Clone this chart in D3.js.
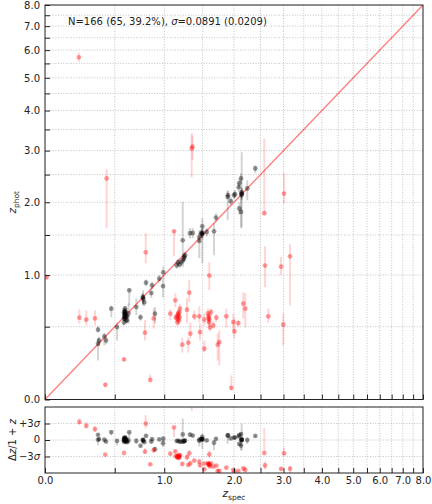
<!DOCTYPE html>
<html>
<head>
<meta charset="utf-8">
<script src="https://cdn.jsdelivr.net/npm/d3@7"></script>
<style>
  body { margin: 0; background: #fff; }
  svg { display: block; font-family: "DejaVu Sans", sans-serif; }
</style>
</head>
<body>
<div id="chart"></div>
<script>
// PHOTO-Z vs SPEC-Z with residual panel

// summary numbers printed in the corner
const nTotal = 166;
const nOutliers = 65;
const outlierPct = 39.2;
const sigma = 0.0891;
const sigmaErr = 0.0209;

// tick positions (redshift) - labels only on the integers
const gridTicks = [0, 0.5, 1, 1.5, 2, 2.5, 3, 3.5, 4, 4.5, 5, 5.5, 6, 6.5, 7, 7.5, 8];
const majorTicks = [0, 1, 2, 3, 4, 5, 6, 7, 8];
const residTicks = [3, 0, -3];          // in units of sigma
const residLabels = [["+3", "σ"], ["0", ""], ["−3", "σ"]];

// [zspec, zphot, zphot_lo, zphot_hi]  -- good fits
const good = [
  [0.361, 0.364, 0.243, 0.405],
  [0.361, 0.475, 0.453, 0.503],
  [0.369, 0.390, 0.350, 0.420],
  [0.412, 0.421, 0.351, 0.453],
  [0.426, 0.390, 0.360, 0.420],
  [0.470, 0.658, 0.580, 0.689],
  [0.520, 0.497, 0.390, 0.536],
  [0.583, 0.571, 0.550, 0.590],
  [0.592, 0.606, 0.580, 0.630],
  [0.588, 0.643, 0.620, 0.660],
  [0.601, 0.554, 0.530, 0.580],
  [0.583, 0.536, 0.510, 0.560],
  [0.611, 0.589, 0.570, 0.610],
  [0.592, 0.661, 0.640, 0.680],
  [0.583, 0.625, 0.600, 0.650],
  [0.611, 0.554, 0.530, 0.580],
  [0.592, 0.571, 0.550, 0.590],
  [0.597, 0.589, 0.570, 0.610],
  [0.588, 0.606, 0.580, 0.630],
  [0.592, 0.625, 0.600, 0.650],
  [0.601, 0.589, 0.570, 0.610],
  [0.590, 0.598, 0.570, 0.620],
  [0.595, 0.615, 0.590, 0.640],
  [0.586, 0.580, 0.560, 0.600],
  [0.598, 0.632, 0.610, 0.650],
  [0.632, 0.837, 0.689, 0.857],
  [0.625, 0.615, 0.528, 0.708],
  [0.700, 0.673, 0.598, 0.757],
  [0.742, 0.580, 0.550, 0.610],
  [0.768, 0.763, 0.689, 0.837],
  [0.770, 0.750, 0.700, 0.800],
  [0.766, 0.770, 0.720, 0.810],
  [0.781, 0.718, 0.680, 0.760],
  [0.799, 0.917, 0.880, 0.950],
  [0.855, 0.809, 0.760, 0.860],
  [0.863, 0.889, 0.850, 0.930],
  [0.895, 0.613, 0.528, 0.671],
  [0.986, 0.881, 0.766, 0.942],
  [0.943, 0.960, 0.920, 1.000],
  [0.989, 1.031, 0.942, 1.100],
  [1.150, 1.111, 1.070, 1.150],
  [1.167, 1.147, 1.100, 1.190],
  [1.205, 1.151, 1.100, 1.200],
  [1.231, 1.171, 1.120, 1.220],
  [1.186, 1.123, 1.080, 1.170],
  [1.227, 1.427, 1.092, 2.005],
  [1.248, 1.220, 1.170, 1.270],
  [1.244, 1.196, 1.150, 1.240],
  [1.257, 1.233, 1.180, 1.280],
  [1.323, 1.524, 1.450, 1.600],
  [1.360, 1.528, 1.460, 1.600],
  [1.452, 1.418, 1.196, 1.566],
  [1.452, 1.468, 1.400, 1.530],
  [1.487, 1.520, 1.460, 1.580],
  [1.490, 1.510, 1.450, 1.570],
  [1.484, 1.530, 1.470, 1.590],
  [1.495, 1.624, 1.135, 1.744],
  [1.500, 1.524, 1.450, 1.600],
  [1.560, 1.542, 1.480, 1.600],
  [1.671, 1.552, 1.233, 1.669],
  [1.702, 1.755, 1.683, 1.822],
  [1.892, 2.090, 1.714, 2.208],
  [1.897, 2.120, 2.050, 2.190],
  [1.943, 2.017, 1.950, 2.090],
  [2.000, 2.120, 2.050, 2.190],
  [2.018, 2.137, 2.070, 2.210],
  [2.083, 2.262, 2.180, 2.340],
  [2.094, 2.336, 2.250, 2.420],
  [2.125, 2.424, 2.330, 2.520],
  [2.137, 2.137, 1.610, 2.965],
  [2.140, 2.150, 2.050, 2.250],
  [2.132, 2.125, 2.030, 2.220],
  [2.134, 2.172, 2.080, 2.260],
  [2.125, 1.842, 1.595, 2.120],
  [2.094, 1.897, 1.800, 2.000],
  [2.241, 2.239, 2.034, 2.392],
  [2.396, 2.620, 2.527, 2.688]
];

// [zspec, zphot, zphot_lo, zphot_hi]  -- outliers
const outliers = [
  [0.010, 0.978, 0.950, 1.000],
  [0.218, 5.723, 5.561, 5.898],
  [0.221, 0.577, 0.528, 0.652],
  [0.271, 0.560, 0.511, 0.643],
  [0.337, 0.571, 0.511, 0.643],
  [0.431, 2.424, 1.595, 2.607],
  [0.420, 0.085, 0.070, 0.100],
  [0.583, 0.250, 0.240, 0.260],
  [0.788, 0.451, 0.390, 0.554],
  [0.796, 1.270, 1.135, 1.524],
  [0.844, 0.116, 0.099, 0.150],
  [0.881, 0.571, 0.486, 0.661],
  [1.117, 1.552, 1.220, 1.566],
  [1.072, 0.613, 0.554, 0.652],
  [1.133, 0.737, 0.671, 0.806],
  [1.138, 0.577, 0.540, 0.610],
  [1.154, 0.589, 0.550, 0.630],
  [1.167, 0.615, 0.580, 0.650],
  [1.179, 0.554, 0.520, 0.590],
  [1.192, 0.658, 0.620, 0.700],
  [1.160, 0.536, 0.500, 0.570],
  [1.186, 0.580, 0.550, 0.610],
  [1.172, 0.600, 0.570, 0.630],
  [1.163, 0.565, 0.530, 0.600],
  [1.182, 0.625, 0.590, 0.660],
  [1.221, 0.357, 0.300, 0.413],
  [1.283, 0.649, 0.528, 0.757],
  [1.300, 0.372, 0.300, 0.413],
  [1.313, 0.813, 0.718, 0.942],
  [1.327, 0.443, 0.405, 0.536],
  [1.346, 3.048, 2.449, 3.408],
  [1.357, 3.089, 2.800, 3.350],
  [1.382, 0.589, 0.554, 0.643],
  [1.452, 0.589, 0.536, 0.680],
  [1.462, 0.455, 0.390, 0.528],
  [1.524, 0.560, 0.511, 0.615],
  [1.524, 0.327, 0.300, 0.390],
  [1.579, 0.615, 0.580, 0.660],
  [1.587, 0.571, 0.530, 0.610],
  [1.594, 0.536, 0.500, 0.570],
  [1.609, 0.494, 0.460, 0.530],
  [1.625, 0.627, 0.590, 0.660],
  [1.590, 0.590, 0.550, 0.630],
  [1.600, 0.560, 0.520, 0.600],
  [1.599, 0.994, 0.837, 1.147],
  [1.660, 0.511, 0.480, 0.550],
  [1.707, 0.577, 0.540, 0.610],
  [1.729, 0.357, 0.243, 0.445],
  [1.754, 0.377, 0.209, 0.469],
  [1.869, 0.589, 0.494, 0.661],
  [1.954, 0.067, 0.051, 0.143],
  [1.988, 0.539, 0.469, 0.615],
  [2.006, 0.461, 0.405, 0.571],
  [2.076, 0.530, 0.500, 0.560],
  [2.167, 0.705, 0.571, 0.816],
  [2.204, 0.658, 0.494, 0.806],
  [2.578, 1.822, 1.800, 3.287],
  [2.593, 1.108, 0.868, 1.347],
  [2.662, 0.589, 0.536, 0.661],
  [2.943, 1.096, 0.997, 1.208],
  [3.012, 2.149, 1.984, 2.527],
  [3.155, 1.220, 0.689, 1.374],
  [2.996, 0.517, 0.351, 0.615]
];

const W = 432, H = 504;
const main = { left: 45, right: 423, top: 5, bottom: 399.5 };
const res = { top: 407, bottom: 473 };
const tickLen = 5;
const fontFam = "DejaVu Sans";
const textColor = "#222";

const svg = d3.select("#chart").append("svg")
    .attr("width", W)
    .attr("height", H);

// log(1+z) scales
const x = d3.scaleLog().domain([1, 9]).range([main.left, main.right]);
const y = d3.scaleLog().domain([1, 9]).range([main.bottom, main.top]);
const yr = d3.scaleLinear().domain([-6 * sigma, 6 * sigma]).range([res.bottom, res.top]);
const px = z => x(1 + z);
const py = z => y(1 + z);
const resid = (zp, zs) => (zp - zs) / (1 + zs);

// clip paths for both panels
const defs = svg.append("defs");
defs.append("clipPath").attr("id", "clip-main").append("rect")
    .attr("x", main.left).attr("y", main.top)
    .attr("width", main.right - main.left).attr("height", main.bottom - main.top);
defs.append("clipPath").attr("id", "clip-res").append("rect")
    .attr("x", main.left).attr("y", res.top)
    .attr("width", main.right - main.left).attr("height", res.bottom - res.top);

const gMain = svg.append("g").attr("clip-path", "url(#clip-main)");
const gRes = svg.append("g").attr("clip-path", "url(#clip-res)");

const gridStyle = sel => sel
    .attr("stroke", "#b5b5b5")
    .attr("stroke-width", 0.8)
    .attr("stroke-dasharray", "1,1.6");

// Grid - main panel
gMain.selectAll(".gx").data(gridTicks).join("line")
    .attr("x1", d => px(d)).attr("x2", d => px(d))
    .attr("y1", main.top).attr("y2", main.bottom)
    .call(gridStyle);
gMain.selectAll(".gy").data(gridTicks).join("line")
    .attr("y1", d => py(d)).attr("y2", d => py(d))
    .attr("x1", main.left).attr("x2", main.right)
    .call(gridStyle);

// Grid - residual panel
gRes.selectAll(".gx").data(gridTicks).join("line")
    .attr("x1", d => px(d)).attr("x2", d => px(d))
    .attr("y1", res.top).attr("y2", res.bottom)
    .call(gridStyle);
gRes.selectAll(".gy").data(residTicks).join("line")
    .attr("y1", d => yr(d * sigma)).attr("y2", d => yr(d * sigma))
    .attr("x1", main.left).attr("x2", main.right)
    .call(gridStyle);

const sets = [
    { data: good, color: "#000", barOpacity: 0.17, ptOpacity: 0.4 },
    { data: outliers, color: "#ff0000", barOpacity: 0.17, ptOpacity: 0.38 }
];

// Error bars
sets.forEach(s => {
    gMain.append("g").selectAll("line").data(s.data).join("line")
        .attr("x1", d => px(d[0])).attr("x2", d => px(d[0]))
        .attr("y1", d => py(d[2])).attr("y2", d => py(d[3]))
        .attr("stroke", s.color).attr("stroke-opacity", s.barOpacity)
        .attr("stroke-width", 2);
    gRes.append("g").selectAll("line").data(s.data).join("line")
        .attr("x1", d => px(d[0])).attr("x2", d => px(d[0]))
        .attr("y1", d => yr(resid(d[2], d[0]))).attr("y2", d => yr(resid(d[3], d[0])))
        .attr("stroke", s.color).attr("stroke-opacity", s.barOpacity)
        .attr("stroke-width", 2);
});

// 1:1 line
gMain.append("line")
    .attr("x1", px(0)).attr("y1", py(0))
    .attr("x2", px(8)).attr("y2", py(8))
    .attr("stroke", "#ff0000").attr("stroke-opacity", 0.5)
    .attr("stroke-width", 1.4);

// Points
sets.forEach(s => {
    gMain.append("g").selectAll("circle").data(s.data).join("circle")
        .attr("cx", d => px(d[0])).attr("cy", d => py(d[1]))
        .attr("r", 2.4)
        .attr("fill", s.color).attr("fill-opacity", s.ptOpacity);
    gRes.append("g").selectAll("circle").data(s.data).join("circle")
        .attr("cx", d => px(d[0])).attr("cy", d => yr(resid(d[1], d[0])))
        .attr("r", 2.4)
        .attr("fill", s.color).attr("fill-opacity", s.ptOpacity);
});

// Axes
const fmt = v => majorTicks.includes(v - 1) ? (v - 1).toFixed(1) : "";
const styleAxis = g => {
    g.select(".domain").remove();
    g.selectAll("line").attr("stroke", textColor);
    g.selectAll("text").attr("fill", textColor).attr("font-size", 10).attr("font-family", fontFam);
};

svg.append("g")
    .attr("transform", `translate(${main.left},0)`)
    .call(d3.axisLeft(y).tickValues(gridTicks.map(t => 1 + t))
        .tickFormat(fmt).tickSize(-tickLen).tickSizeOuter(0).tickPadding(5))
    .call(styleAxis);

svg.append("g")
    .attr("transform", `translate(0,${main.bottom})`)
    .call(d3.axisBottom(x).tickValues(gridTicks.map(t => 1 + t))
        .tickFormat("").tickSize(-tickLen).tickSizeOuter(0))
    .call(styleAxis);

svg.append("g")
    .attr("transform", `translate(0,${res.bottom})`)
    .call(d3.axisBottom(x).tickValues(gridTicks.map(t => 1 + t))
        .tickFormat(fmt).tickSize(-tickLen).tickSizeOuter(0).tickPadding(3.5))
    .call(styleAxis);

const resAxis = svg.append("g")
    .attr("transform", `translate(${main.left},0)`)
    .call(d3.axisLeft(yr).tickValues(residTicks.map(t => t * sigma))
        .tickFormat("").tickSize(-tickLen).tickSizeOuter(0))
    .call(styleAxis);

// residual tick labels with italic sigma
residTicks.forEach((t, i) => {
    const txt = svg.append("text")
        .attr("x", main.left - 5)
        .attr("y", yr(t * sigma))
        .attr("dy", "0.32em")
        .attr("text-anchor", "end")
        .attr("font-size", 10)
        .attr("font-family", fontFam)
        .attr("fill", textColor);
    txt.append("tspan").text(residLabels[i][0]);
    if (residLabels[i][1]) txt.append("tspan").attr("font-style", "italic").text(residLabels[i][1]);
});

// Spines
[[main.top, main.bottom], [res.top, res.bottom]].forEach(([t, b]) => {
    svg.append("rect")
        .attr("x", main.left).attr("y", t)
        .attr("width", main.right - main.left).attr("height", b - t)
        .attr("fill", "none")
        .attr("stroke", textColor)
        .attr("stroke-width", 1);
});

// Axis labels
const yLab = svg.append("text")
    .attr("transform", `translate(16,${(main.top + main.bottom) / 2}) rotate(-90)`)
    .attr("text-anchor", "middle")
    .attr("font-family", fontFam)
    .attr("font-size", 10.5)
    .attr("fill", textColor);
yLab.append("tspan").attr("font-style", "italic").text("z");
yLab.append("tspan").attr("font-size", 7.5).attr("dy", 2.5).text("phot");

const rLab = svg.append("text")
    .attr("transform", `translate(16,${(res.top + res.bottom) / 2}) rotate(-90)`)
    .attr("text-anchor", "middle")
    .attr("font-family", fontFam)
    .attr("font-size", 10)
    .attr("fill", textColor);
rLab.append("tspan").text("Δ");
rLab.append("tspan").attr("font-style", "italic").text("z");
rLab.append("tspan").text("/1 + ");
rLab.append("tspan").attr("font-style", "italic").text("z");

const xLab = svg.append("text")
    .attr("x", (main.left + main.right) / 2)
    .attr("y", 497)
    .attr("text-anchor", "middle")
    .attr("font-family", fontFam)
    .attr("font-size", 10.5)
    .attr("fill", textColor);
xLab.append("tspan").attr("font-style", "italic").text("z");
xLab.append("tspan").attr("font-size", 7.5).attr("dy", 2.5).text("spec");

// Stats annotation
const stat = svg.append("text")
    .attr("x", 68)
    .attr("y", 25)
    .attr("font-family", fontFam)
    .attr("font-size", 10)
    .attr("fill", textColor);
stat.append("tspan").text(`N=${nTotal} (${nOutliers}, ${outlierPct.toFixed(1)}%), `);
stat.append("tspan").attr("font-style", "italic").text("σ");
stat.append("tspan").text(`=${sigma.toFixed(4)} (${sigmaErr.toFixed(4)})`);
</script>
</body>
</html>
